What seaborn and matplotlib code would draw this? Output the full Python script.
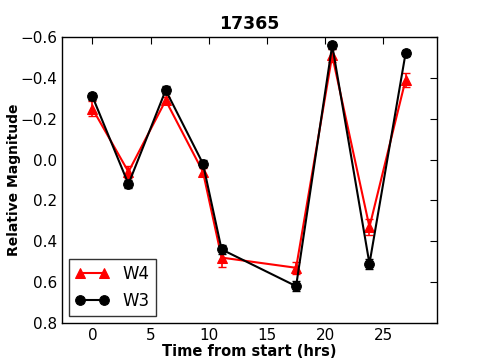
import numpy as np
import pandas as pd
import matplotlib
matplotlib.use("Agg")
import matplotlib.pyplot as plt
import seaborn as sns

hours = [0.0, 3.1, 6.3, 9.5, 11.1, 17.5, 20.6, 23.8, 26.9]
w4 = [-0.25, 0.06, -0.29, 0.06, 0.48, 0.53, -0.51, 0.33, -0.39]
w4_err = [0.035, 0.03, 0.015, 0.02, 0.045, 0.03, 0.03, 0.04, 0.035]
w3 = [-0.31, 0.12, -0.34, 0.02, 0.44, 0.62, -0.56, 0.51, -0.52]
w3_err = [0.018, 0.018, 0.018, 0.018, 0.02, 0.025, 0.018, 0.025, 0.015]

df = pd.DataFrame({"hours": hours, "W4": w4, "W3": w3})

sns.set_style("white")
plt.rcParams["font.family"] = ["DejaVu Sans"]
plt.rcParams["text.color"] = "black"
plt.rcParams["axes.labelcolor"] = "black"
plt.rcParams["xtick.direction"] = "in"
plt.rcParams["ytick.direction"] = "in"

fig = plt.figure(figsize=(4.85, 3.6), dpi=100)
ax = fig.add_axes([0.128, 0.103, 0.773, 0.794])

sns.lineplot(data=df, x="hours", y="W4", sort=False, color="red", marker="^",
             markersize=7, markeredgecolor="red", linewidth=1.5, label="W4", ax=ax)
ax.errorbar(hours, w4, yerr=w4_err, fmt="none", ecolor="red", elinewidth=1.2, capsize=3)
sns.lineplot(data=df, x="hours", y="W3", sort=False, color="black", marker="o",
             markersize=7, markeredgecolor="black", linewidth=1.5, label="W3", ax=ax)
ax.errorbar(hours, w3, yerr=w3_err, fmt="none", ecolor="black", elinewidth=1.2, capsize=3)

ax.set_xlim(-2.6, 29.6)
ax.set_ylim(0.8, -0.6)
ax.set_xticks([0, 5, 10, 15, 20, 25])
ax.set_yticks([-0.6, -0.4, -0.2, 0.0, 0.2, 0.4, 0.6, 0.8])
ax.tick_params(top=True, right=True, length=5, width=0.8, labelsize=11,
               colors="black", labelcolor="black")
for s in ax.spines.values():
    s.set_color("black")
    s.set_linewidth(1)

ax.set_title("17365", fontsize=12.5, fontweight="bold", color="black")
ax.set_xlabel("Time from start (hrs)", fontsize=10.5, fontweight="bold", labelpad=1)
ax.set_ylabel("Relative Magnitude", fontsize=10, fontweight="bold")
ax.yaxis.set_label_coords(-0.109, 0.5)

leg = ax.legend(loc="lower left", numpoints=2, fontsize=12, fancybox=False,
                handlelength=2.0, borderaxespad=0.4)
leg.get_frame().set_edgecolor("black")
for t in leg.get_texts():
    t.set_color("black")

plt.savefig("out.png", dpi=100)
